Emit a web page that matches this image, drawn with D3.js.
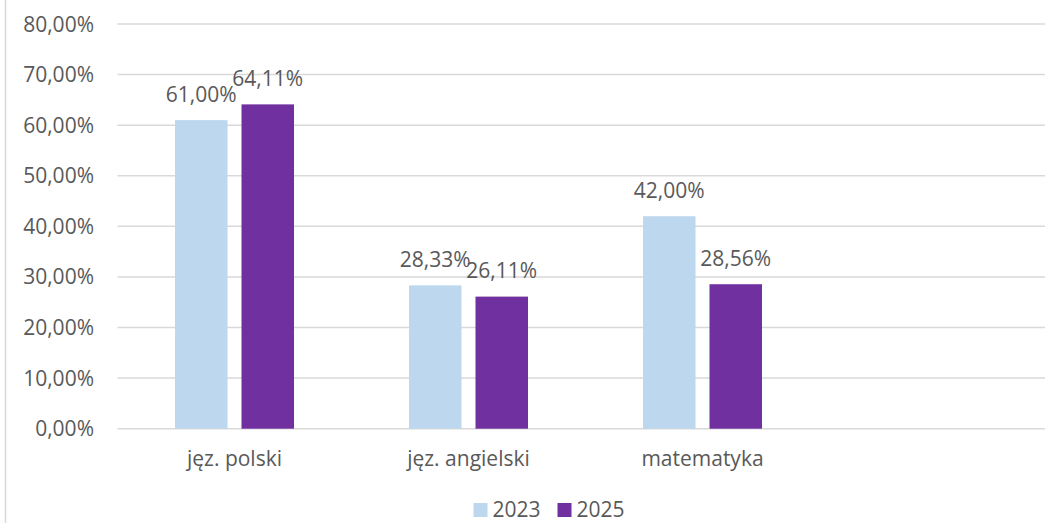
<!DOCTYPE html>
<html>
<head>
<meta charset="utf-8">
<script src="https://cdn.jsdelivr.net/npm/d3@7"></script>
<style>
  body { margin: 0; background: #fff; }
  svg text { font-family: "Open Sans", "Liberation Sans", sans-serif; fill: #595959; }
</style>
</head>
<body>
<div id="chart"></div>
<script>
// data
var categories = ["jęz. polski", "jęz. angielski", "matematyka", ""];
var years = ["2023", "2025"];
var values2023 = [61.00, 28.33, 42.00];
var values2025 = [64.11, 26.11, 28.56];
var yTicks = [0, 10, 20, 30, 40, 50, 60, 70, 80];
var colors = ["#BDD7EE", "#7030A0"];

var width = 1045, height = 523;

var svg = d3.select("#chart").append("svg")
  .attr("width", width)
  .attr("height", height);

// frame line on the left
svg.append("line")
  .attr("x1", 5.5).attr("x2", 5.5)
  .attr("y1", 0).attr("y2", height)
  .style("stroke", "#d9d9d9")
  .style("stroke-width", 1.5);

var y = d3.scaleLinear()
  .domain([0, 80])
  .range([428.7, 24]);

// 4 slots, last one empty (chart continues past the right edge)
var x0 = d3.scaleBand()
  .domain(categories)
  .range([117.5, 1053.5]);

var x1 = d3.scaleBand()
  .domain(years)
  .range([0, x0.bandwidth()])
  .paddingInner(0.2105)
  .paddingOuter(0.8647);

var color = d3.scaleOrdinal().domain(years).range(colors);

var fmt = function(v) { return d3.format(".2f")(v).replace(".", ",") + "%"; };

// gridlines
svg.append("g")
  .selectAll("line")
  .data(yTicks)
  .enter().append("line")
  .attr("x1", 117.5)
  .attr("x2", width)
  .attr("y1", function(d) { return y(d); })
  .attr("y2", function(d) { return y(d); })
  .style("stroke", "#d9d9d9")
  .style("stroke-width", 1.5);

// y labels
svg.append("g")
  .selectAll("text")
  .data(yTicks)
  .enter().append("text")
  .attr("x", 94)
  .attr("y", function(d) { return y(d); })
  .attr("dy", "0.36em")
  .style("text-anchor", "end")
  .style("font-size", "21px")
  .text(fmt);

var rows = categories.slice(0, 3).map(function(c, i) {
  return { cat: c, vals: [ { year: "2023", v: values2023[i] }, { year: "2025", v: values2025[i] } ] };
});

var groups = svg.append("g")
  .selectAll("g")
  .data(rows)
  .enter().append("g")
  .attr("transform", function(d) { return "translate(" + x0(d.cat) + ",0)"; });

groups.selectAll("rect")
  .data(function(d) { return d.vals; })
  .enter().append("rect")
  .attr("x", function(d) { return x1(d.year); })
  .attr("width", x1.bandwidth())
  .attr("y", function(d) { return y(d.v); })
  .attr("height", function(d) { return y(0) - y(d.v); })
  .style("fill", function(d) { return color(d.year); });

groups.selectAll(".bar-label")
  .data(function(d) { return d.vals; })
  .enter().append("text")
  .attr("class", "bar-label")
  .attr("x", function(d) { return x1(d.year) + x1.bandwidth() / 2; })
  .attr("y", function(d) { return y(d.v) - 18.5; })
  .style("text-anchor", "middle")
  .style("font-size", "21px")
  .text(function(d) { return fmt(d.v); });

// category labels
svg.append("g")
  .selectAll("text")
  .data(categories.slice(0, 3))
  .enter().append("text")
  .attr("x", function(d) { return x0(d) + x0.bandwidth() / 2; })
  .attr("y", 466)
  .style("text-anchor", "middle")
  .style("font-size", "21px")
  .text(function(d) { return d; });

// legend
var legendX = [473.5, 557.5];
var legend = svg.append("g")
  .selectAll("g")
  .data(years)
  .enter().append("g")
  .attr("transform", function(d, i) { return "translate(" + legendX[i] + ",503)"; });

legend.append("rect")
  .attr("width", 14)
  .attr("height", 14)
  .style("fill", function(d) { return color(d); });

legend.append("text")
  .attr("x", 19)
  .attr("y", 13.5)
  .style("font-size", "21px")
  .text(function(d) { return d; });
</script>
</body>
</html>
